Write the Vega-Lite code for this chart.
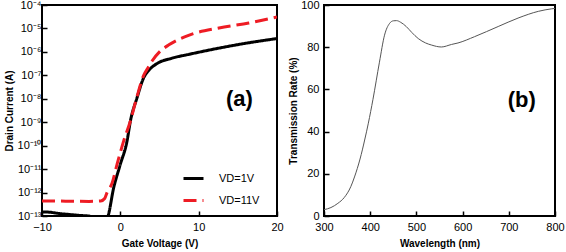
{
  "$schema": "https://vega.github.io/schema/vega-lite/v6.json",
  "padding": {"left": 3, "top": -2, "right": 2, "bottom": 0},
  "spacing": 2,
  "config": {
    "font": "Liberation Sans",
    "view": {"stroke": "#000", "strokeWidth": 2},
    "axis": {
      "domain": false,
      "grid": false,
      "labelFlush": false,
      "labelOverlap": false,
      "tickColor": "#000",
      "tickSize": -5,
      "tickWidth": 1.5,
      "labelFont": "Liberation Sans",
      "labelFontSize": 11,
      "labelColor": "#000",
      "titleFont": "Liberation Sans",
      "titleFontSize": 10,
      "titleFontWeight": "bold",
      "titleColor": "#000"
    },
    "axisX": {"labelPadding": 10, "titlePadding": 6}
  },
  "hconcat": [
    {
      "width": 235,
      "height": 211,
      "layer": [
        {
          "data": {
            "values": [
              {"series": "VD=1V", "gate": -10, "current": 1.5e-13},
              {"series": "VD=1V", "gate": -9, "current": 1.45e-13},
              {"series": "VD=1V", "gate": -8, "current": 1.3e-13},
              {"series": "VD=1V", "gate": -7, "current": 1.2e-13},
              {"series": "VD=1V", "gate": -6, "current": 1.12e-13},
              {"series": "VD=1V", "gate": -5, "current": 1.05e-13},
              {"series": "VD=1V", "gate": -4, "current": 1.0e-13},
              {"series": "VD=1V", "gate": -3, "current": 7e-14},
              {"series": "VD=1V", "gate": -2, "current": 6e-14},
              {"series": "VD=1V", "gate": -1.57, "current": 1.0e-13},
              {"series": "VD=1V", "gate": -0.85, "current": 1.6e-12},
              {"series": "VD=1V", "gate": 0, "current": 1.6e-11},
              {"series": "VD=1V", "gate": 0.86, "current": 1.6e-10},
              {"series": "VD=1V", "gate": 1.28, "current": 1.1e-9},
              {"series": "VD=1V", "gate": 2.13, "current": 1.1e-8},
              {"series": "VD=1V", "gate": 2.98, "current": 7.9e-8},
              {"series": "VD=1V", "gate": 3.6, "current": 1.6e-7},
              {"series": "VD=1V", "gate": 4.7, "current": 3.2e-7},
              {"series": "VD=1V", "gate": 6.6, "current": 5.4e-7},
              {"series": "VD=1V", "gate": 8.8, "current": 7.9e-7},
              {"series": "VD=1V", "gate": 12.6, "current": 1.45e-6},
              {"series": "VD=1V", "gate": 16.4, "current": 2.45e-6},
              {"series": "VD=1V", "gate": 20, "current": 3.7e-6},
              {"series": "VD=11V", "gate": -10, "current": 4.4e-13},
              {"series": "VD=11V", "gate": -7, "current": 4.3e-13},
              {"series": "VD=11V", "gate": -4, "current": 4.2e-13},
              {"series": "VD=11V", "gate": -2.5, "current": 4.4e-13},
              {"series": "VD=11V", "gate": -2, "current": 5.6e-13},
              {"series": "VD=11V", "gate": -1.7, "current": 1.0e-12},
              {"series": "VD=11V", "gate": -1.06, "current": 2.5e-12},
              {"series": "VD=11V", "gate": -0.42, "current": 1.6e-11},
              {"series": "VD=11V", "gate": 0.43, "current": 1.6e-10},
              {"series": "VD=11V", "gate": 1.28, "current": 1.1e-9},
              {"series": "VD=11V", "gate": 2.13, "current": 1.25e-8},
              {"series": "VD=11V", "gate": 2.98, "current": 1.0e-7},
              {"series": "VD=11V", "gate": 3.5, "current": 2.0e-7},
              {"series": "VD=11V", "gate": 4.05, "current": 4.1e-7},
              {"series": "VD=11V", "gate": 5, "current": 1.0e-6},
              {"series": "VD=11V", "gate": 6.2, "current": 2.0e-6},
              {"series": "VD=11V", "gate": 8.8, "current": 5.2e-6},
              {"series": "VD=11V", "gate": 12.6, "current": 1.05e-5},
              {"series": "VD=11V", "gate": 16.4, "current": 1.7e-5},
              {"series": "VD=11V", "gate": 20, "current": 3.1e-5}
            ]
          },
          "mark": {"type": "line", "clip": true, "strokeWidth": 3, "interpolate": "monotone"},
          "encoding": {
            "x": {
              "field": "gate",
              "type": "quantitative",
              "scale": {"domain": [-10, 20], "nice": false},
              "axis": {"values": [-10, -5, 0, 5, 10, 15, 20], "title": "Gate Voltage (V)"}
            },
            "y": {
              "field": "current",
              "type": "quantitative",
              "scale": {"type": "log", "domain": [1e-13, 1e-4], "nice": false},
              "axis": {
                "title": "Drain Current (A)",
                "labelPadding": 6,
                "titlePadding": 3,
                "values": [1e-13, 1e-12, 1e-11, 1e-10, 1e-9, 1e-8, 1e-7, 1e-6, 1e-5, 1e-4],
                "labelExpr": "['10⁻¹³','10⁻¹²','10⁻¹¹','10⁻¹⁰','10⁻⁹','10⁻⁸','10⁻⁷','10⁻⁶','10⁻⁵','10⁻⁴'][round(log(datum.value)/LN10)+13]"
              }
            },
            "color": {
              "field": "series",
              "type": "nominal",
              "scale": {"domain": ["VD=1V", "VD=11V"], "range": ["#000000", "#ee1c24"]},
              "legend": {
                "orient": "none", "legendX": 140, "legendY": 162, "title": null,
                "symbolType": "stroke", "symbolSize": 400, "symbolStrokeWidth": 3,
                "labelFontSize": 11, "labelFont": "Liberation Sans", "labelColor": "#000",
                "labelOffset": 14, "rowPadding": 4
              }
            },
            "strokeDash": {
              "field": "series",
              "type": "nominal",
              "scale": {"domain": ["VD=1V", "VD=11V"], "range": [[1, 0], [13, 6]]},
              "legend": {
                "orient": "none", "legendX": 140, "legendY": 162, "title": null,
                "symbolType": "stroke", "symbolSize": 400, "symbolStrokeWidth": 3,
                "labelFontSize": 11, "labelFont": "Liberation Sans", "labelColor": "#000",
                "labelOffset": 14, "rowPadding": 4
              }
            }
          }
        },
        {
          "data": {"values": [{"gate": 15.2, "current": 1e-8, "label": "(a)"}]},
          "mark": {"type": "text", "fontSize": 22, "fontWeight": "bold", "font": "Liberation Sans", "color": "#000"},
          "encoding": {
            "x": {"field": "gate", "type": "quantitative"},
            "y": {"field": "current", "type": "quantitative"},
            "text": {"field": "label"}
          }
        }
      ]
    },
    {
      "width": 231,
      "height": 211,
      "layer": [
        {
          "data": {
            "values": [
              {"wavelength": 300, "transmission": 3.0},
              {"wavelength": 315, "transmission": 4.0},
              {"wavelength": 330, "transmission": 6.0},
              {"wavelength": 344, "transmission": 8.8},
              {"wavelength": 358, "transmission": 13.9},
              {"wavelength": 366, "transmission": 18.5},
              {"wavelength": 378, "transmission": 27},
              {"wavelength": 388, "transmission": 36},
              {"wavelength": 396, "transmission": 44},
              {"wavelength": 406, "transmission": 55.3},
              {"wavelength": 420, "transmission": 72.9},
              {"wavelength": 431, "transmission": 85.7},
              {"wavelength": 442, "transmission": 91.3},
              {"wavelength": 450, "transmission": 92.5},
              {"wavelength": 457, "transmission": 92.6},
              {"wavelength": 466, "transmission": 91.8},
              {"wavelength": 478, "transmission": 89.8},
              {"wavelength": 490, "transmission": 87},
              {"wavelength": 504, "transmission": 84.1},
              {"wavelength": 520, "transmission": 82},
              {"wavelength": 533, "transmission": 81},
              {"wavelength": 554, "transmission": 80.1},
              {"wavelength": 576, "transmission": 81.3},
              {"wavelength": 590, "transmission": 82},
              {"wavelength": 626, "transmission": 85},
              {"wavelength": 677, "transmission": 89.8},
              {"wavelength": 720, "transmission": 93.8},
              {"wavelength": 764, "transmission": 97},
              {"wavelength": 793, "transmission": 98.2},
              {"wavelength": 800, "transmission": 98.4}
            ]
          },
          "mark": {"type": "line", "color": "#555555", "strokeWidth": 1, "interpolate": "monotone"},
          "encoding": {
            "x": {
              "field": "wavelength",
              "type": "quantitative",
              "scale": {"domain": [300, 800], "nice": false},
              "axis": {"values": [300, 400, 500, 600, 700, 800], "title": "Wavelength (nm)"}
            },
            "y": {
              "field": "transmission",
              "type": "quantitative",
              "scale": {"domain": [0, 100], "nice": false},
              "axis": {"values": [0, 20, 40, 60, 80, 100], "title": "Transmission Rate (%)", "labelPadding": 10, "titlePadding": 2}
            }
          }
        },
        {
          "data": {"values": [{"wavelength": 728, "transmission": 55, "label": "(b)"}]},
          "mark": {"type": "text", "fontSize": 22, "fontWeight": "bold", "font": "Liberation Sans", "color": "#000"},
          "encoding": {
            "x": {"field": "wavelength", "type": "quantitative"},
            "y": {"field": "transmission", "type": "quantitative"},
            "text": {"field": "label"}
          }
        }
      ]
    }
  ]
}
